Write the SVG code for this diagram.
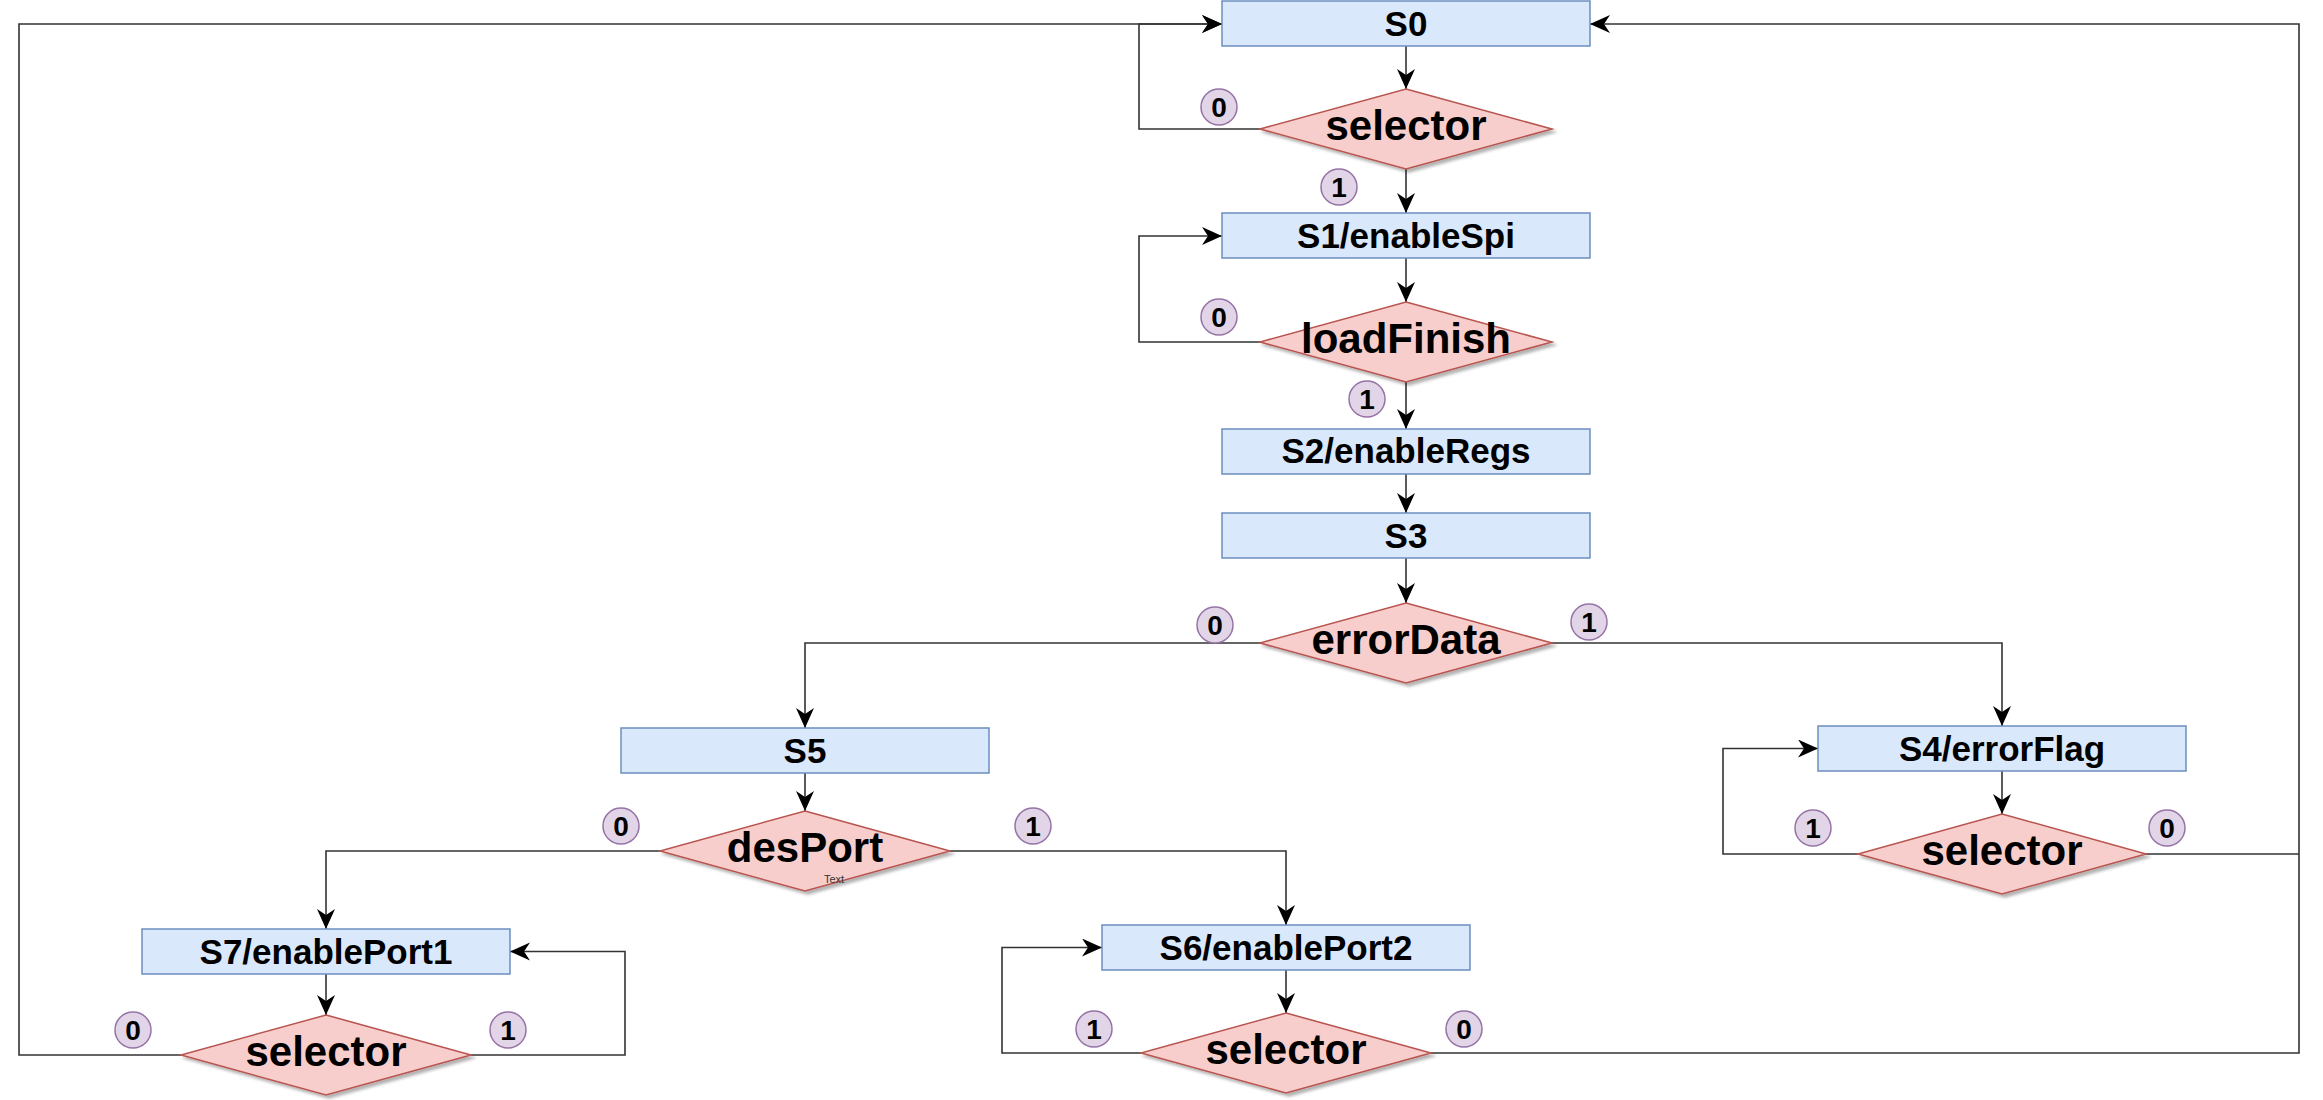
<svg xmlns="http://www.w3.org/2000/svg" width="2323" height="1100" viewBox="0 0 2323 1100">
<defs>
<style>
.box{fill:#dae8fc;stroke:#6c8ebf;stroke-width:1.5}
.dia{fill:#f8cecc;stroke:#b85450;stroke-width:1.5;filter:url(#sh)}
.bl{font-family:"Liberation Sans",Arial,sans-serif;font-weight:bold;font-size:35px;fill:#000;text-anchor:middle}
.dl{font-family:"Liberation Sans",Arial,sans-serif;font-weight:bold;font-size:42px;fill:#000;text-anchor:middle}
.badge circle{fill:#e1d5e7;stroke:#9673a6;stroke-width:1.5}
.badge text{font-family:"Liberation Sans",Arial,sans-serif;font-weight:bold;font-size:28px;fill:#000;text-anchor:middle}
.ed{fill:none;stroke:#333;stroke-width:1.6}
.ea{marker-end:url(#arr)}
</style>
<filter id="sh" x="-10%" y="-10%" width="130%" height="140%">
<feDropShadow dx="3" dy="3" stdDeviation="1.5" flood-color="#000" flood-opacity="0.3"/>
</filter>
<marker id="arr" markerUnits="userSpaceOnUse" markerWidth="22" markerHeight="20" refX="20" refY="9" orient="auto">
<path d="M0,0 L20,9 L0,18 L6,9 Z" fill="#000"/>
</marker>
</defs>
<rect width="2323" height="1100" fill="#fff"/>

<g id="connectors">
<path class="ed ea" d="M1406,46 L1406,89"/>
<path class="ed ea" d="M1260,129 L1139,129 L1139,24 L1222,24"/>
<path class="ed ea" d="M1406,169 L1406,213"/>
<path class="ed ea" d="M1406,258 L1406,302"/>
<path class="ed ea" d="M1260,342 L1139,342 L1139,236 L1222,236"/>
<path class="ed ea" d="M1406,382 L1406,429"/>
<path class="ed ea" d="M1406,474 L1406,513"/>
<path class="ed ea" d="M1406,558 L1406,603"/>
<path class="ed ea" d="M1261,643 L805,643 L805,728"/>
<path class="ed ea" d="M1551,643 L2002,643 L2002,726"/>
<path class="ed ea" d="M805,773 L805,811"/>
<path class="ed ea" d="M660,851 L326,851 L326,929"/>
<path class="ed ea" d="M950,851 L1286,851 L1286,925"/>
<path class="ed ea" d="M326,974 L326,1015"/>
<path class="ed ea" d="M181,1055 L19,1055 L19,24 L1222,24"/>
<path class="ed ea" d="M471,1055 L625,1055 L625,951.5 L510,951.5"/>
<path class="ed ea" d="M1286,970 L1286,1013"/>
<path class="ed ea" d="M1141,1053 L1002,1053 L1002,947.5 L1102,947.5"/>
<path class="ed ea" d="M1431,1053 L2299,1053 L2299,24 L1590,24"/>
<path class="ed ea" d="M2002,771 L2002,814"/>
<path class="ed ea" d="M1858,854 L1723,854 L1723,748.5 L1818,748.5"/>
<path class="ed" d="M2146,854 L2299,854"/>
</g>

<g id="S0"><rect class="box" x="1222" y="1" width="368" height="45"/><text class="bl" x="1406" y="36">S0</text></g>
<g id="sel0"><polygon class="dia" points="1406,89 1552,129 1406,169 1260,129"/><text class="dl" x="1406" y="140">selector</text></g>
<g id="S1"><rect class="box" x="1222" y="213" width="368" height="45"/><text class="bl" x="1406" y="248">S1/enableSpi</text></g>
<g id="loadFinish"><polygon class="dia" points="1406,302 1552,342 1406,382 1260,342"/><text class="dl" x="1406" y="353">loadFinish</text></g>
<g id="S2"><rect class="box" x="1222" y="429" width="368" height="45"/><text class="bl" x="1406" y="463">S2/enableRegs</text></g>
<g id="S3"><rect class="box" x="1222" y="513" width="368" height="45"/><text class="bl" x="1406" y="548">S3</text></g>
<g id="errorData"><polygon class="dia" points="1406,603 1552,643 1406,683 1260,643"/><text class="dl" x="1406" y="654">errorData</text></g>
<g id="S5"><rect class="box" x="621" y="728" width="368" height="45"/><text class="bl" x="805" y="763">S5</text></g>
<g id="desPort"><polygon class="dia" points="805,811 950,851 805,891 660,851"/><text class="dl" x="805" y="862">desPort</text><text x="834" y="883" font-family="'Liberation Sans',Arial,sans-serif" font-size="11" fill="#333" text-anchor="middle">Text</text></g>
<g id="S7"><rect class="box" x="142" y="929" width="368" height="45"/><text class="bl" x="326" y="964">S7/enablePort1</text></g>
<g id="sel7"><polygon class="dia" points="326,1015 471,1055 326,1095 181,1055"/><text class="dl" x="326" y="1066">selector</text></g>
<g id="S6"><rect class="box" x="1102" y="925" width="368" height="45"/><text class="bl" x="1286" y="960">S6/enablePort2</text></g>
<g id="sel6"><polygon class="dia" points="1286,1013 1431,1053 1286,1093 1141,1053"/><text class="dl" x="1286" y="1064">selector</text></g>
<g id="S4"><rect class="box" x="1818" y="726" width="368" height="45"/><text class="bl" x="2002" y="761">S4/errorFlag</text></g>
<g id="sel4"><polygon class="dia" points="2002,814 2146,854 2002,894 1858,854"/><text class="dl" x="2002" y="865">selector</text></g>

<g id="badges">
<g class="badge"><circle cx="1219" cy="107" r="18"/><text x="1219" y="117">0</text></g>
<g class="badge"><circle cx="1339" cy="187" r="18"/><text x="1339" y="197">1</text></g>
<g class="badge"><circle cx="1219" cy="317" r="18"/><text x="1219" y="327">0</text></g>
<g class="badge"><circle cx="1367" cy="399" r="18"/><text x="1367" y="409">1</text></g>
<g class="badge"><circle cx="1215" cy="625" r="18"/><text x="1215" y="635">0</text></g>
<g class="badge"><circle cx="1589" cy="622" r="18"/><text x="1589" y="632">1</text></g>
<g class="badge"><circle cx="621" cy="826" r="18"/><text x="621" y="836">0</text></g>
<g class="badge"><circle cx="1033" cy="826" r="18"/><text x="1033" y="836">1</text></g>
<g class="badge"><circle cx="133" cy="1030" r="18"/><text x="133" y="1040">0</text></g>
<g class="badge"><circle cx="508" cy="1030" r="18"/><text x="508" y="1040">1</text></g>
<g class="badge"><circle cx="1094" cy="1029" r="18"/><text x="1094" y="1039">1</text></g>
<g class="badge"><circle cx="1464" cy="1029" r="18"/><text x="1464" y="1039">0</text></g>
<g class="badge"><circle cx="1813" cy="828" r="18"/><text x="1813" y="838">1</text></g>
<g class="badge"><circle cx="2167" cy="828" r="18"/><text x="2167" y="838">0</text></g>
</g>
</svg>
